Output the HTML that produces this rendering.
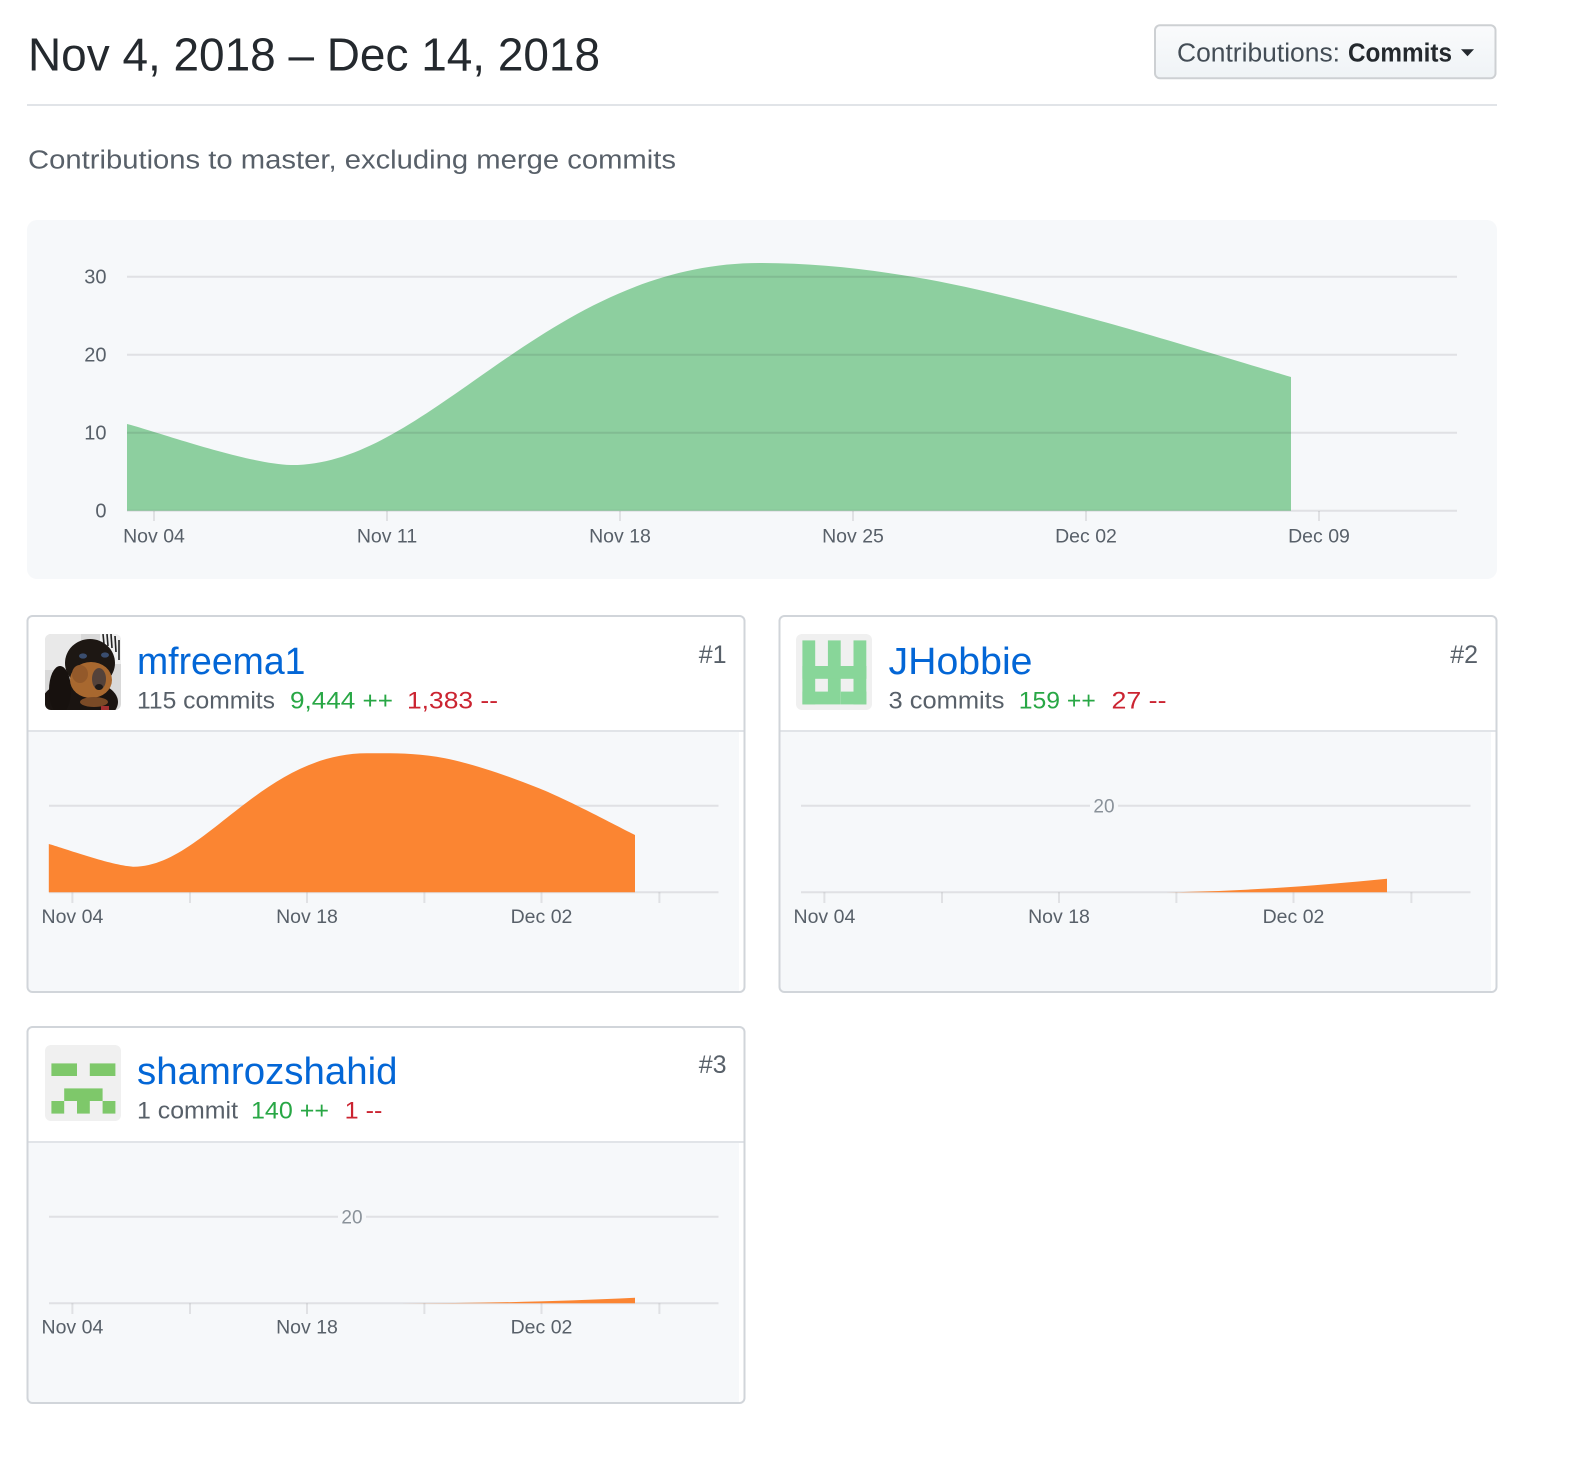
<!DOCTYPE html>
<html><head><meta charset="utf-8"><style>
html,body{margin:0;padding:0;background:#fff;}
svg{display:block;}
text{font-family:"Liberation Sans",Arial,sans-serif;}
</style></head><body>
<svg width="1596" height="1468" viewBox="0 0 1596 1468" xmlns="http://www.w3.org/2000/svg">
<defs>
<linearGradient id="btn" x1="0" y1="0" x2="0" y2="1"><stop offset="0" stop-color="#fafbfc"/><stop offset="1" stop-color="#eff3f6"/></linearGradient>
<clipPath id="c1"><rect x="28.5" y="617" width="715" height="374" rx="4"/></clipPath>
<clipPath id="c2"><rect x="780.5" y="617" width="715" height="374" rx="4"/></clipPath>
<clipPath id="c3"><rect x="28.5" y="1028" width="715" height="374" rx="4"/></clipPath>
<clipPath id="dog"><rect x="45" y="634" width="76" height="76" rx="6"/></clipPath>
</defs>
<rect width="1596" height="1468" fill="#fff"/>

<!-- Header -->
<text x="28" y="70.5" font-size="46" fill="#24292e" textLength="572" lengthAdjust="spacingAndGlyphs">Nov 4, 2018 – Dec 14, 2018</text>
<rect x="1155" y="25.3" width="340.5" height="53" rx="5" fill="url(#btn)" stroke="#cdd0d3" stroke-width="2"/>
<text x="1177" y="61.7" font-size="25.5" fill="#444d56" textLength="163" lengthAdjust="spacingAndGlyphs">Contributions:</text>
<text x="1348" y="61.7" font-size="25.5" font-weight="bold" fill="#24292e" textLength="104" lengthAdjust="spacingAndGlyphs">Commits</text>
<polygon points="1461,49.3 1474,49.3 1467.5,56.3" fill="#24292e"/>
<rect x="27" y="104" width="1470" height="2" fill="#e1e4e8"/>
<text x="28" y="168.3" font-size="25.5" fill="#586069" textLength="648" lengthAdjust="spacingAndGlyphs">Contributions to master, excluding merge commits</text>

<!-- Main chart -->
<rect x="27" y="220" width="1470" height="359" rx="10" fill="#f6f8fa"/>
<path d="M127,510.7 L127,424 C154.3,430.8 245,463.5 291,465 C430,466 546,263 760,263 C812,263 859.7,268 914,277 C968.3,286 1023.2,300.3 1086,317 C1148.8,333.7 1256.8,367 1291,377 L1291,510.7 Z" fill="#8dcf9f"/>
<g stroke="rgba(27,31,35,0.1)" stroke-width="2">
<line x1="127" y1="276.7" x2="1457" y2="276.7"/>
<line x1="127" y1="354.7" x2="1457" y2="354.7"/>
<line x1="127" y1="432.7" x2="1457" y2="432.7"/>
<line x1="127" y1="510.7" x2="1457" y2="510.7"/>
<line x1="154" y1="511" x2="154" y2="521"/>
<line x1="387" y1="511" x2="387" y2="521"/>
<line x1="620" y1="511" x2="620" y2="521"/>
<line x1="853" y1="511" x2="853" y2="521"/>
<line x1="1086" y1="511" x2="1086" y2="521"/>
<line x1="1319" y1="511" x2="1319" y2="521"/>
</g>
<g font-size="20" fill="#586069" text-anchor="end">
<text x="106.5" y="283.7">30</text>
<text x="106.5" y="361.7">20</text>
<text x="106.5" y="439.7">10</text>
<text x="106.5" y="517.7">0</text>
</g>
<g font-size="19.5" fill="#586069" text-anchor="middle">
<text x="154" y="542.5">Nov 04</text>
<text x="387" y="542.5">Nov 11</text>
<text x="620" y="542.5">Nov 18</text>
<text x="853" y="542.5">Nov 25</text>
<text x="1086" y="542.5">Dec 02</text>
<text x="1319" y="542.5">Dec 09</text>
</g>

<!-- Card 1 -->
<rect x="27.5" y="616" width="717" height="376" rx="5" fill="#fff"/>
<g clip-path="url(#c1)">
<rect x="27" y="732" width="712" height="262" fill="#f6f8fa"/>
</g>
<line x1="28" y1="731" x2="744" y2="731" stroke="#e1e4e8" stroke-width="2"/>
<g clip-path="url(#dog)">
<rect x="45" y="634" width="76" height="76" fill="#d9d9d9"/>
<rect x="45" y="634" width="36" height="36" fill="#e9e9e9"/>
<rect x="100" y="634" width="21" height="30" fill="#f0f0f0"/>
<g stroke="#222" stroke-width="1.6"><line x1="103" y1="634" x2="104" y2="644"/><line x1="107" y1="634" x2="108" y2="646"/><line x1="111" y1="634" x2="112" y2="648"/><line x1="115" y1="636" x2="116" y2="652"/><line x1="119" y1="640" x2="119" y2="660"/></g>
<ellipse cx="90" cy="663" rx="25" ry="24" fill="#1d1713"/>
<ellipse cx="80" cy="702" rx="38" ry="22" fill="#1a1411"/>
<ellipse cx="60" cy="690" rx="11" ry="24" fill="#17110e"/>
<ellipse cx="91" cy="680" rx="21" ry="18" fill="#a8682f"/>
<ellipse cx="80" cy="674" rx="8" ry="9" fill="#93592a"/>
<ellipse cx="99" cy="679" rx="7" ry="11" fill="#54423a"/>
<ellipse cx="99" cy="687" rx="4" ry="3" fill="#1f1a18"/>
<ellipse cx="83" cy="656" rx="4" ry="2.6" fill="#3a4d6e"/>
<ellipse cx="105" cy="655" rx="4" ry="2.6" fill="#3a4d6e"/>
<ellipse cx="94" cy="702" rx="14" ry="5" fill="#7a4a26"/>
<rect x="101" y="706" width="8" height="4" fill="#a33030"/>
</g>
<text x="137" y="674" font-size="38" fill="#0366d6" textLength="168.5" lengthAdjust="spacingAndGlyphs">mfreema1</text>
<text x="137" y="708.3" font-size="24.5" fill="#586069" textLength="138" lengthAdjust="spacingAndGlyphs">115 commits</text>
<text x="290" y="708.3" font-size="24.5" fill="#28a745" textLength="103" lengthAdjust="spacingAndGlyphs">9,444 ++</text>
<text x="407" y="708.3" font-size="24.5" fill="#cb2431" textLength="91" lengthAdjust="spacingAndGlyphs">1,383 --</text>
<text x="726.5" y="663" font-size="25" fill="#586069" text-anchor="end">#1</text>
<g stroke="rgba(27,31,35,0.1)" stroke-width="2">
<line x1="49" y1="805.7" x2="718.5" y2="805.7"/>
<line x1="49" y1="892.3" x2="718.5" y2="892.3"/>
<line x1="72.4" y1="892.3" x2="72.4" y2="903"/><line x1="190" y1="892.3" x2="190" y2="903"/><line x1="307" y1="892.3" x2="307" y2="903"/><line x1="424.4" y1="892.3" x2="424.4" y2="903"/><line x1="541.5" y1="892.3" x2="541.5" y2="903"/><line x1="659.4" y1="892.3" x2="659.4" y2="903"/>
</g>
<path d="M48.8,892.3 L48.8,844 C62.8,847.8 110.3,865.2 133,866.7 C203,867.5 260.8,753.3 367,753.3 C390.7,753.3 416.3,752.5 445,758.3 C473.7,764.1 507.3,775.5 539,788.3 C570.7,801.1 619,827.2 635,835 L635,892.3 Z" fill="#fb8532"/>
<g font-size="19.5" fill="#586069" text-anchor="middle">
<text x="72.4" y="923">Nov 04</text><text x="307" y="923">Nov 18</text><text x="541.5" y="923">Dec 02</text>
</g>
<rect x="27.5" y="616" width="717" height="376" rx="5" fill="none" stroke="#d1d5da" stroke-width="2"/>

<!-- Card 2 -->
<rect x="779.5" y="616" width="717" height="376" rx="5" fill="#fff"/>
<g clip-path="url(#c2)">
<rect x="779" y="732" width="712" height="262" fill="#f6f8fa"/>
</g>
<line x1="780" y1="731" x2="1496" y2="731" stroke="#e1e4e8" stroke-width="2"/>
<rect x="796" y="634" width="76" height="76" rx="6" fill="#f0f0f0"/>
<g fill="#88d699">
<rect x="802.4" y="640.4" width="12.8" height="64"/>
<rect x="827.9" y="640.4" width="12.8" height="64"/>
<rect x="853.5" y="640.4" width="12.8" height="64"/>
<rect x="802.4" y="666" width="64" height="12.8"/>
<rect x="802.4" y="691.6" width="25.6" height="12.8"/>
<rect x="840.8" y="691.6" width="25.6" height="12.8"/>
</g>
<text x="888.5" y="674" font-size="38" fill="#0366d6" textLength="144" lengthAdjust="spacingAndGlyphs">JHobbie</text>
<text x="888.5" y="708.3" font-size="24.5" fill="#586069" textLength="116" lengthAdjust="spacingAndGlyphs">3 commits</text>
<text x="1018.8" y="708.3" font-size="24.5" fill="#28a745" textLength="77" lengthAdjust="spacingAndGlyphs">159 ++</text>
<text x="1111.5" y="708.3" font-size="24.5" fill="#cb2431" textLength="55" lengthAdjust="spacingAndGlyphs">27 --</text>
<text x="1478" y="663" font-size="25" fill="#586069" text-anchor="end">#2</text>
<g stroke="rgba(27,31,35,0.1)" stroke-width="2">
<line x1="801" y1="805.7" x2="1470.5" y2="805.7"/>
<line x1="801" y1="892.3" x2="1470.5" y2="892.3"/>
<line x1="824.4" y1="892.3" x2="824.4" y2="903"/><line x1="942" y1="892.3" x2="942" y2="903"/><line x1="1059" y1="892.3" x2="1059" y2="903"/><line x1="1176.4" y1="892.3" x2="1176.4" y2="903"/><line x1="1293.5" y1="892.3" x2="1293.5" y2="903"/><line x1="1411.4" y1="892.3" x2="1411.4" y2="903"/>
</g>
<rect x="1090" y="797" width="28" height="17" fill="#f6f8fa"/>
<text x="1104" y="812.3" font-size="19" fill="#8a929a" text-anchor="middle">20</text>
<path d="M1152,892.3 C1232,892.3 1312,886 1387,878.7 L1387,892.3 Z" fill="#fb8532"/>
<g font-size="19.5" fill="#586069" text-anchor="middle">
<text x="824.4" y="923">Nov 04</text><text x="1059" y="923">Nov 18</text><text x="1293.5" y="923">Dec 02</text>
</g>
<rect x="779.5" y="616" width="717" height="376" rx="5" fill="none" stroke="#d1d5da" stroke-width="2"/>

<!-- Card 3 -->
<rect x="27.5" y="1027" width="717" height="376" rx="5" fill="#fff"/>
<g clip-path="url(#c3)">
<rect x="27" y="1143" width="712" height="262" fill="#f6f8fa"/>
</g>
<line x1="28" y1="1142" x2="744" y2="1142" stroke="#e1e4e8" stroke-width="2"/>
<rect x="45" y="1045" width="76" height="76" rx="6" fill="#f0f0f0"/>
<g fill="#7ec86a">
<rect x="51.4" y="1063.4" width="25.6" height="12.6"/>
<rect x="89.8" y="1063.4" width="25.6" height="12.6"/>
<rect x="64.2" y="1088.4" width="38.4" height="12.6"/>
<rect x="51.4" y="1101" width="12.8" height="12.6"/>
<rect x="77" y="1101" width="12.8" height="12.6"/>
<rect x="102.6" y="1101" width="12.8" height="12.6"/>
</g>
<text x="137" y="1084" font-size="38" fill="#0366d6" textLength="260.5" lengthAdjust="spacingAndGlyphs">shamrozshahid</text>
<text x="137" y="1118.6" font-size="24.5" fill="#586069" textLength="101" lengthAdjust="spacingAndGlyphs">1 commit</text>
<text x="251" y="1118.6" font-size="24.5" fill="#28a745" textLength="78" lengthAdjust="spacingAndGlyphs">140 ++</text>
<text x="344.7" y="1118.6" font-size="24.5" fill="#cb2431" textLength="37.7" lengthAdjust="spacingAndGlyphs">1 --</text>
<text x="726.5" y="1073" font-size="25" fill="#586069" text-anchor="end">#3</text>
<g stroke="rgba(27,31,35,0.1)" stroke-width="2">
<line x1="49" y1="1216.7" x2="718.5" y2="1216.7"/>
<line x1="49" y1="1303.3" x2="718.5" y2="1303.3"/>
<line x1="72.4" y1="1303.3" x2="72.4" y2="1314"/><line x1="190" y1="1303.3" x2="190" y2="1314"/><line x1="307" y1="1303.3" x2="307" y2="1314"/><line x1="424.4" y1="1303.3" x2="424.4" y2="1314"/><line x1="541.5" y1="1303.3" x2="541.5" y2="1314"/><line x1="659.4" y1="1303.3" x2="659.4" y2="1314"/>
</g>
<rect x="338" y="1208" width="28" height="17" fill="#f6f8fa"/>
<text x="352" y="1223.3" font-size="19" fill="#8a929a" text-anchor="middle">20</text>
<path d="M400,1303.3 C480,1303.3 560,1301.5 635,1297.8 L635,1303.3 Z" fill="#fb8532"/>
<g font-size="19.5" fill="#586069" text-anchor="middle">
<text x="72.4" y="1333.5">Nov 04</text><text x="307" y="1333.5">Nov 18</text><text x="541.5" y="1333.5">Dec 02</text>
</g>
<rect x="27.5" y="1027" width="717" height="376" rx="5" fill="none" stroke="#d1d5da" stroke-width="2"/>
</svg>
</body></html>
